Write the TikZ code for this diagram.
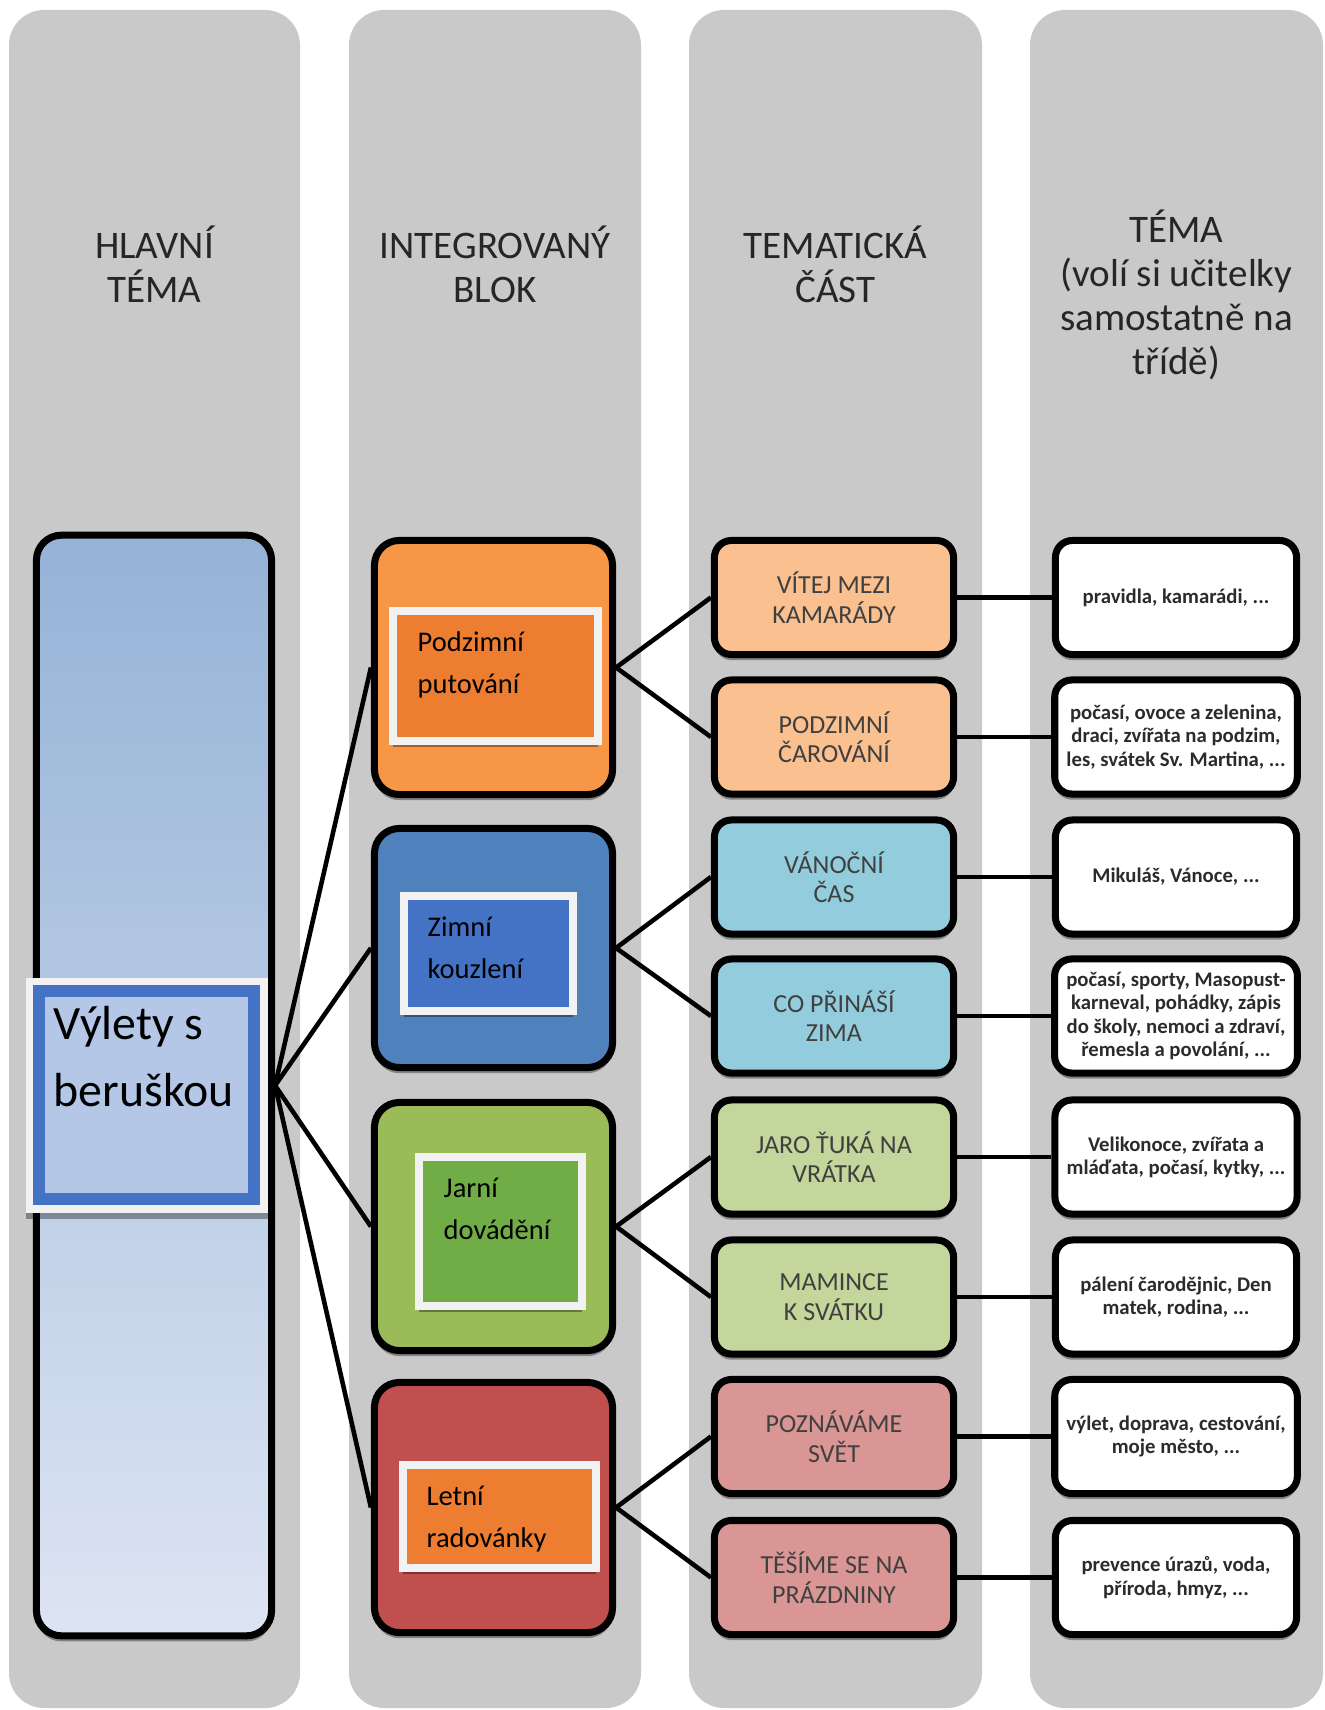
\documentclass[tikz,border=0pt]{standalone}
\usepackage{fontspec}
\setmainfont{Carlito}
\usetikzlibrary{shadows}

\definecolor{colgray}{HTML}{C9C9C9}
\definecolor{headtext}{HTML}{262626}
\definecolor{parttext}{HTML}{404040}
\definecolor{topictext}{HTML}{2B2B2B}
\definecolor{framewhite}{HTML}{F2F2F2}
\definecolor{maintop}{HTML}{95B3D7}
\definecolor{mainbottom}{HTML}{DDE4F3}
\definecolor{titleblue}{HTML}{4472C4}
\definecolor{titlefill}{HTML}{B4C7E7}
\definecolor{podzimcol}{HTML}{F79646}
\definecolor{zimacol}{HTML}{4F81BD}
\definecolor{jarocol}{HTML}{9BBB59}
\definecolor{letocol}{HTML}{C0504D}
\definecolor{podziminner}{HTML}{ED7D31}
\definecolor{zimainner}{HTML}{4472C4}
\definecolor{jaroinner}{HTML}{70AD47}
\definecolor{podzimlight}{HTML}{FAC090}
\definecolor{zimalight}{HTML}{93CDDD}
\definecolor{jarolight}{HTML}{C3D69B}
\definecolor{letolight}{HTML}{D99694}

\tikzset{
  column/.style={fill=colgray, rounded corners=0.35cm},
  boxshadow/.style={drop shadow={shadow xshift=0pt, shadow yshift=-1.6pt, opacity=0.35, fill=black}},
  head/.style={align=center, text=headtext, font=\fontsize{11.1}{12.5}\selectfont},
  mainbox/.style={draw=black, line width=2pt, rounded corners=0.25cm, top color=maintop, bottom color=mainbottom, minimum width=2.35cm, minimum height=11cm, boxshadow},
  block/.style={draw=black, line width=2pt, rounded corners=0.25cm, minimum width=2.38cm, boxshadow},
  inbox/.style={draw=framewhite, line width=2.2pt, boxshadow},
  intext/.style={anchor=north west, align=left, inner sep=0pt, text=black, font=\fontsize{8.1}{11.9}\selectfont},
  partbox/.style={draw=black, line width=2pt, rounded corners=0.17cm, minimum width=2.39cm, minimum height=1.14cm, align=center, text=parttext, font=\fontsize{7.4}{8.4}\selectfont, boxshadow},
  topicbox/.style={partbox, fill=white, minimum width=2.41cm, text=topictext, font=\bfseries\fontsize{5.9}{6.6}\selectfont},
  link/.style={line width=1.3pt},
}

\begin{document}
\begin{tikzpicture}[x=0.01cm, y=-0.01cm]
\useasboundingbox (0,0) rectangle (1325,1710);

% columns
\fill[column] (9,10) rectangle (300,1708);
\fill[column] (349,10) rectangle (641,1708);
\fill[column] (689,10) rectangle (982,1708);
\fill[column] (1030,10) rectangle (1323,1708);

% headers
\node[head] (head1) at (154.5,264) {HLAVNÍ\\TÉMA};
\node[head] (head2) at (495,264) {INTEGROVANÝ\\BLOK};
\node[head] (head3) at (835.5,264) {TEMATICKÁ\\ČÁST};
\node[head] (head4) at (1176.5,295) {TÉMA\\(volí si učitelky\\samostatně na\\třídě)};

% main theme
\node[mainbox] (main) at (154,1085.5) {};
\node[fill=framewhite, minimum width=2.42cm, minimum height=2.35cm, boxshadow] (titleframe) at (147,1095.5) {};
\node[draw=titleblue, line width=3.4pt, fill=titlefill, minimum width=2.15cm, minimum height=2.08cm] (titlebox) at (146.5,1095) {};
\node[intext, font=\fontsize{13.6}{19}\selectfont] (title) at (53,1006) {Výlety s\\beruškou};

% integrated blocks
\node[block, fill=podzimcol, minimum height=2.54cm] (podzim) at (493.5,667.5) {};
\node[block, fill=zimacol, minimum height=2.39cm] (zima) at (493.5,948) {};
\node[block, fill=jarocol, minimum height=2.48cm] (jaro) at (493.5,1226.5) {};
\node[block, fill=letocol, minimum height=2.50cm] (leto) at (493.5,1507.5) {};

\node[inbox, fill=podziminner, minimum width=2.05cm, minimum height=1.30cm] (podzimin) at (495.5,676) {};
\node[inbox, fill=zimainner, minimum width=1.69cm, minimum height=1.15cm] (zimain) at (488.5,953.5) {};
\node[inbox, fill=jaroinner, minimum width=1.63cm, minimum height=1.49cm] (jaroin) at (500.5,1231.5) {};
\node[inbox, fill=podziminner, minimum width=1.93cm, minimum height=1.03cm] (letoin) at (499.5,1516.5) {};

\node[intext] (podzimtext) at (417,631) {Podzimní\\putování};
\node[intext] (zimatext) at (427,916) {Zimní\\kouzlení};
\node[intext] (jarotext) at (443,1177) {Jarní\\dovádění};
\node[intext] (letotext) at (426,1485) {Letní\\radovánky};

% thematic parts
\node[partbox, fill=podzimlight] (vitej) at (834,597.5) {VÍTEJ MEZI\\KAMARÁDY};
\node[partbox, fill=podzimlight] (carovani) at (834,737) {PODZIMNÍ\\ČAROVÁNÍ};
\node[partbox, fill=zimalight] (vanoce) at (834,877) {VÁNOČNÍ\\ČAS};
\node[partbox, fill=zimalight] (prinasi) at (834,1016) {CO PŘINÁŠÍ\\ZIMA};
\node[partbox, fill=jarolight] (tuka) at (834,1157) {JARO ŤUKÁ NA\\VRÁTKA};
\node[partbox, fill=jarolight] (mamince) at (834,1297) {MAMINCE\\K SVÁTKU};
\node[partbox, fill=letolight] (svet) at (834,1436.5) {POZNÁVÁME\\SVĚT};
\node[partbox, fill=letolight] (prazdniny) at (834,1577.5) {TĚŠÍME SE NA\\PRÁZDNINY};

% topics
\node[topicbox] (pravidla) at (1176,597.5) {pravidla, kamarádi, ...};
\node[topicbox] (podzimtema) at (1176,737) {počasí, ovoce a zelenina,\\draci, zvířata na podzim,\\les, svátek Sv. Martina, ...};
\node[topicbox] (mikulas) at (1176,877) {Mikuláš, Vánoce, ...};
\node[topicbox] (zimatema) at (1176,1016) {počasí, sporty, Masopust-\\karneval, pohádky, zápis\\do školy, nemoci a zdraví,\\řemesla a povolání, ...};
\node[topicbox] (velikonoce) at (1176,1157) {Velikonoce, zvířata a\\mláďata, počasí, kytky, ...};
\node[topicbox] (paleni) at (1176,1297) {pálení čarodějnic, Den\\matek, rodina, ...};
\node[topicbox] (vylet) at (1176,1436.5) {výlet, doprava, cestování,\\moje město, ...};
\node[topicbox] (prevence) at (1176,1577.5) {prevence úrazů, voda,\\příroda, hmyz, ...};

% connectors
\draw[link] (main.east) -- (podzim.west);
\draw[link] (main.east) -- (zima.west);
\draw[link] (main.east) -- (jaro.west);
\draw[link] (main.east) -- (leto.west);
\draw[link] (podzim.east) -- (vitej.west);
\draw[link] (podzim.east) -- (carovani.west);
\draw[link] (zima.east) -- (vanoce.west);
\draw[link] (zima.east) -- (prinasi.west);
\draw[link] (jaro.east) -- (tuka.west);
\draw[link] (jaro.east) -- (mamince.west);
\draw[link] (leto.east) -- (svet.west);
\draw[link] (leto.east) -- (prazdniny.west);
\draw[link] (vitej.east) -- (pravidla.west);
\draw[link] (carovani.east) -- (podzimtema.west);
\draw[link] (vanoce.east) -- (mikulas.west);
\draw[link] (prinasi.east) -- (zimatema.west);
\draw[link] (tuka.east) -- (velikonoce.west);
\draw[link] (mamince.east) -- (paleni.west);
\draw[link] (svet.east) -- (vylet.west);
\draw[link] (prazdniny.east) -- (prevence.west);

\end{tikzpicture}
\end{document}
